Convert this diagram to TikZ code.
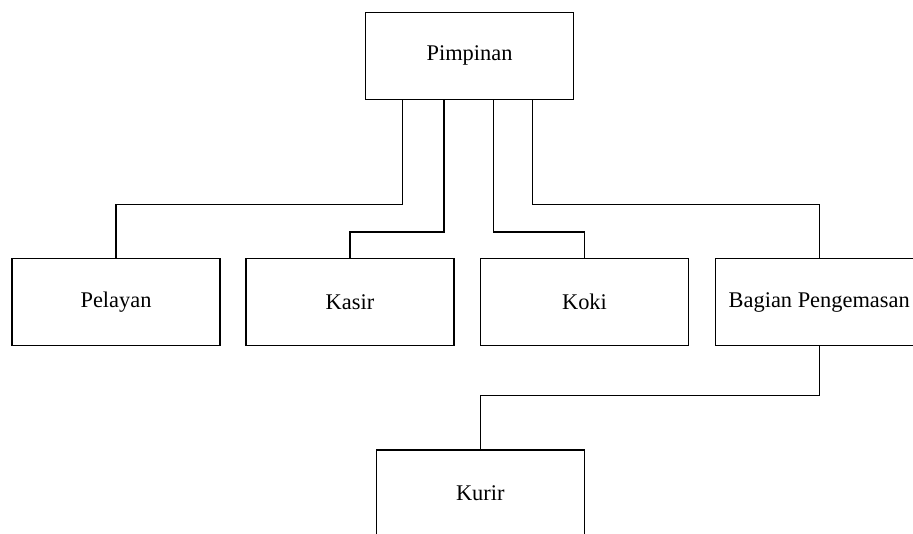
\documentclass[tikz,border=0pt]{standalone}
\usepackage{fontspec}
\setmainfont{Liberation Serif}
\begin{document}
\begin{tikzpicture}[x=1pt,y=-1pt,
  box/.style={draw, line width=1.2pt, minimum width=208pt, minimum height=87pt, inner sep=0pt, font=\fontsize{22.4}{27}\selectfont},
  link/.style={draw, line width=1.2pt}]
\useasboundingbox (0,0) rectangle (913,533);
\clip (0,0) rectangle (913,533);
\node[box] (pim) at (469.5,55.8) {Pimpinan};
\node[box] (pel) at (116,302.3) {Pelayan};
\node[box] (kas) at (350,302.3) {Kasir};
\node[box] (kok) at (584.5,302.3) {Koki};
\node[box] (bag) at (819.2,302.3) {Bagian Pengemasan};
\node[box] (kur) at (480.3,493.5) {Kurir};
\path[link] ([xshift=-67.2pt]pim.south) -- ++(0,104.7) -| (pel.north);
\path[link] ([xshift=-25.5pt]pim.south) -- ++(0,132) -| (kas.north);
\path[link] ([xshift=23.8pt]pim.south) -- ++(0,132) -| (kok.north);
\path[link] ([xshift=63.2pt]pim.south) -- ++(0,104.7) -| (bag.north);
\path[link] (bag.south) -- ++(0,49.3) -| (kur.north);
\end{tikzpicture}
\end{document}
